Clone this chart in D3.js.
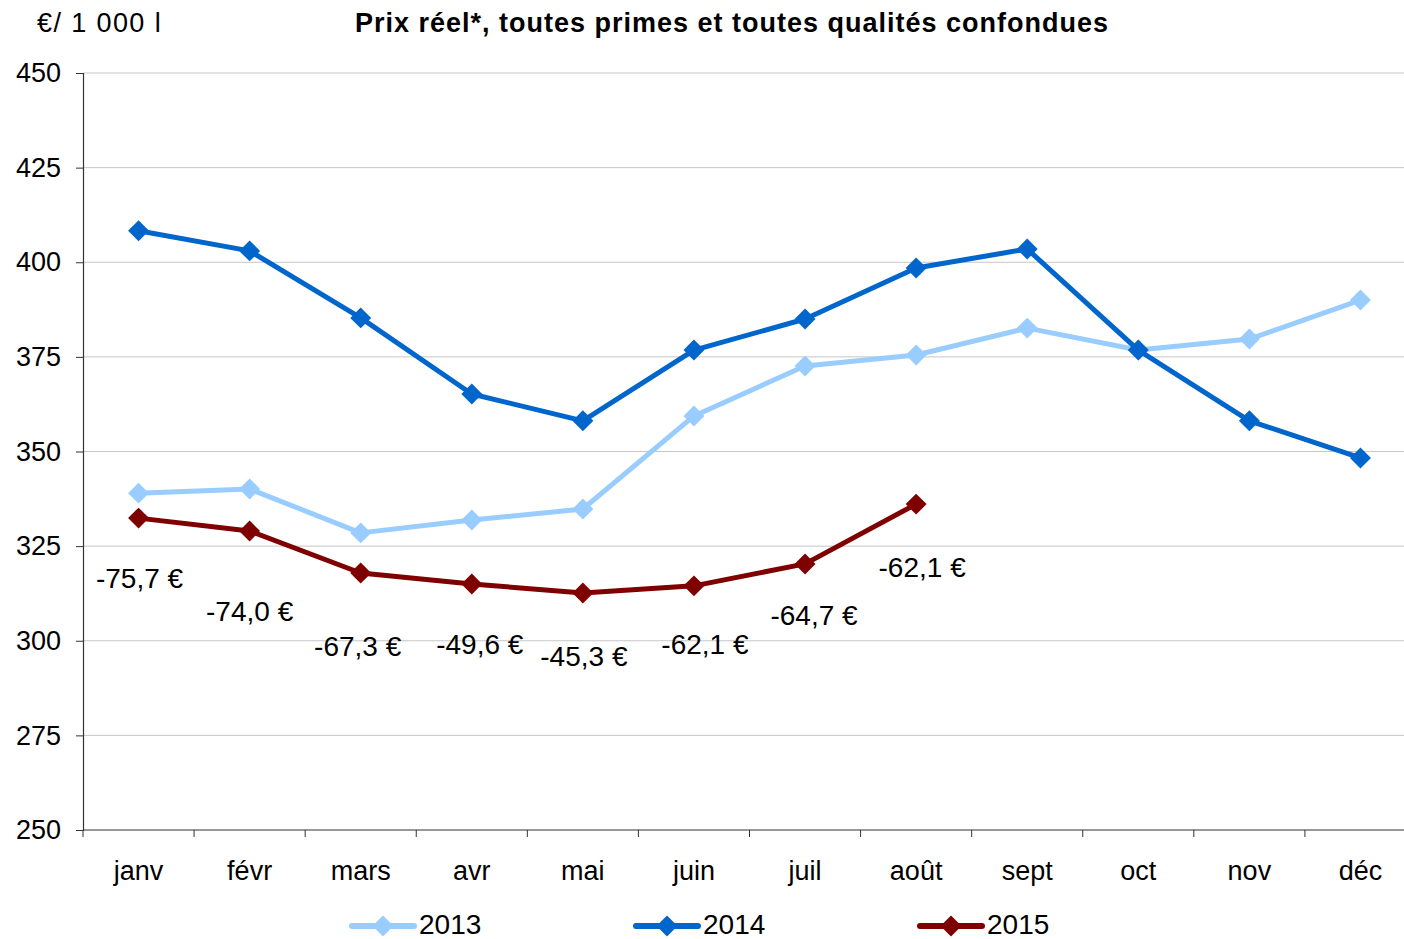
<!DOCTYPE html>
<html>
<head>
<meta charset="utf-8">
<script src="https://cdn.jsdelivr.net/npm/d3@7"></script>
<style>
  body { margin: 0; background: #fff; }
  svg { display: block; font-family: "Liberation Sans", Arial, sans-serif; }
</style>
</head>
<body>
<svg id="chart" width="1404" height="939"></svg>
<script>
(function () {
  // data
  const months = ['janv', 'févr', 'mars', 'avr', 'mai', 'juin', 'juil', 'août', 'sept', 'oct', 'nov', 'déc'];
  const yTicks = [250, 275, 300, 325, 350, 375, 400, 425, 450];
  const price2013 = [339.0, 340.1, 328.5, 331.9, 334.8, 359.4, 372.6, 375.5, 382.6, 376.8, 379.7, 390.0];
  const price2014 = [408.3, 403.0, 385.3, 365.2, 358.1, 376.8, 385.0, 398.5, 403.5, 376.8, 358.1, 348.3];
  const price2015 = [332.4, 329.0, 317.9, 315.0, 312.6, 314.5, 320.3, 336.1];
  // gap 2015 vs 2014 labels, anchored at a price level under each point
  const gapText = ['-75,7 €', '-74,0 €', '-67,3 €', '-49,6 €', '-45,3 €', '-62,1 €', '-64,7 €', '-62,1 €'];
  const gapLevel = [316.0, 307.3, 298.0, 298.5, 295.3, 298.5, 306.2, 318.8];
  const gapShift = [1, 0, -3, 8, 1, 11, 9, 6];

  const series = [
    { name: '2013', values: price2013, color: '#99CCFF' },
    { name: '2014', values: price2014, color: '#0066CC' },
    { name: '2015', values: price2015, color: '#7F0000' }
  ];

  const svg = d3.select('#chart');
  const left = 83, right = 1416, top = 73, bottom = 830;
  const font = '"Liberation Sans", Arial, sans-serif';

  const x = d3.scaleBand().domain(months).range([left, right]);
  const y = d3.scaleLinear().domain([250, 450]).range([bottom, top]);
  const cx = (i) => x(months[i]) + x.bandwidth() / 2;

  // gridlines
  svg.append('g')
    .selectAll('line')
    .data(yTicks.filter(d => d > 250))
    .join('line')
    .attr('x1', left).attr('x2', right)
    .attr('y1', d => y(d)).attr('y2', d => y(d))
    .attr('stroke', '#C6C6C6').attr('stroke-width', 1);

  // y axis
  const yAxis = svg.append('g')
    .attr('transform', `translate(${left},0)`)
    .call(d3.axisLeft(y).tickValues(yTicks).tickSize(7).tickPadding(15).tickFormat(d3.format('d')));
  yAxis.select('.domain').attr('stroke', '#333').attr('stroke-width', 1.2);
  yAxis.selectAll('.tick line').attr('stroke', '#333');
  yAxis.selectAll('text').attr('font-size', 27).attr('fill', '#000').attr('font-family', font);

  // x axis: ticks between categories
  const xAxis = svg.append('g').attr('transform', `translate(0,${bottom})`);
  xAxis.append('line').attr('x1', left).attr('x2', right).attr('stroke', '#333').attr('stroke-width', 1.2);
  xAxis.selectAll('line.tk')
    .data(d3.range(months.length + 1))
    .join('line')
    .attr('class', 'tk')
    .attr('x1', i => left + i * x.bandwidth()).attr('x2', i => left + i * x.bandwidth())
    .attr('y1', 0).attr('y2', 7)
    .attr('stroke', '#333');
  xAxis.selectAll('text')
    .data(months)
    .join('text')
    .attr('x', d => x(d) + x.bandwidth() / 2)
    .attr('y', 50)
    .attr('text-anchor', 'middle')
    .attr('font-size', 27)
    .text(d => d);

  // lines and markers
  const line = d3.line().x((d, i) => cx(i)).y(d => y(d));
  const diamond = d3.symbol().type(d3.symbolDiamond2).size(280);

  series.forEach(s => {
    svg.append('path')
      .datum(s.values)
      .attr('d', line)
      .attr('fill', 'none')
      .attr('stroke', s.color)
      .attr('stroke-width', 5)
      .attr('stroke-linejoin', 'round');
    svg.append('g')
      .selectAll('path')
      .data(s.values)
      .join('path')
      .attr('d', diamond)
      .attr('transform', (d, i) => `translate(${cx(i)},${y(d)})`)
      .attr('fill', s.color);
  });

  // gap labels
  svg.append('g')
    .selectAll('text')
    .data(gapText)
    .join('text')
    .attr('x', (d, i) => cx(i) + gapShift[i])
    .attr('y', (d, i) => y(gapLevel[i]))
    .attr('text-anchor', 'middle')
    .attr('dominant-baseline', 'middle')
    .attr('font-size', 28)
    .text(d => d);

  // title and unit
  svg.append('text')
    .attr('x', 732).attr('y', 32)
    .attr('text-anchor', 'middle')
    .attr('font-size', 27).attr('font-weight', 'bold')
    .attr('letter-spacing', 1)
    .text('Prix réel*, toutes primes et toutes qualités confondues');
  svg.append('text')
    .attr('x', 37).attr('y', 32)
    .attr('font-size', 27)
    .attr('letter-spacing', 1.4)
    .text('€/ 1 000 l');

  // legend
  const legendX = [350, 634, 918];
  const legend = svg.append('g')
    .selectAll('g')
    .data(series)
    .join('g')
    .attr('transform', (d, i) => `translate(${legendX[i]},926)`);
  legend.append('line')
    .attr('x1', 2).attr('x2', 64)
    .attr('stroke', d => d.color).attr('stroke-width', 6).attr('stroke-linecap', 'round');
  legend.append('path')
    .attr('d', diamond)
    .attr('transform', 'translate(33,0)')
    .attr('fill', d => d.color);
  legend.append('text')
    .attr('x', 69).attr('y', 1)
    .attr('dominant-baseline', 'middle')
    .attr('font-size', 28)
    .text(d => d.name);
})();
</script>
</body>
</html>
